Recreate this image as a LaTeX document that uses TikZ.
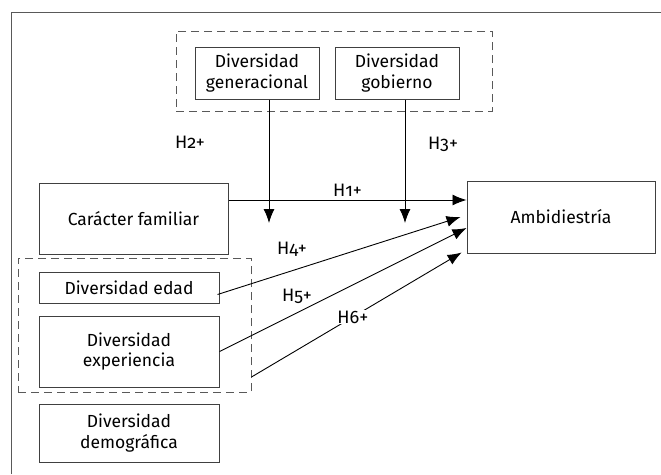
\documentclass[tikz,border=0pt]{standalone}
\usepackage{fontspec}
\setmainfont{Fira Sans}[Numbers=OldStyle]
\usetikzlibrary{arrows.meta}

\begin{document}
\begin{tikzpicture}[
  x=1pt, y=-1pt,
  %% Plain variable boxes
  varbox/.style={draw=black!75, line width=1pt, align=center,
                 inner sep=0pt, font=\fontsize{17.5}{20.5}\selectfont},
  %% Dashed group frames
  grpbox/.style={draw=black!65, line width=1pt, dash pattern=on 8pt off 5pt,
                 inner sep=0pt},
  %% Hypothesis labels
  hyp/.style={font=\fontsize{18}{20}\selectfont, inner sep=1pt},
  %% Arrows
  arr/.style={-{Latex[length=14pt,width=11pt]}, line width=0.9pt},
  marr/.style={-{Latex[length=14pt,width=11pt]}, line width=0.9pt, shorten >=1pt}
]
\useasboundingbox (0,0) rectangle (661,474);

%% -- Open frame: left and top only --------------------------------------
\draw[black!65, line width=1pt] (11,474) -- (11,12) -- (661,12);

%% -- Top group: moderators ---------------------------------------------
\node[grpbox, minimum width=316pt, minimum height=80pt] (topgrp) at (334,71) {};
\node[varbox, minimum width=124pt, minimum height=52pt] (gen) at (257,73)
  {Diversidad\\generacional};
\node[varbox, minimum width=124pt, minimum height=52pt] (gob) at (397,73)
  {Diversidad\\gobierno};

%% -- Main boxes -------------------------------------------------------
\node[varbox, minimum width=189pt, minimum height=71pt] (car) at (133.5,218.5)
  {Carácter familiar};
\node[varbox, minimum width=188pt, minimum height=72pt] (amb) at (561,217)
  {Ambidiestría};

%% -- Left group: diversity dimensions -------------------------------------
\node[grpbox, minimum width=233pt, minimum height=134pt] (leftgrp) at (134.5,325) {};
\node[varbox, minimum width=180pt, minimum height=31pt] (edad) at (129,287.5)
  {Diversidad edad};
\node[varbox, minimum width=180pt, minimum height=71pt] (exp) at (129,351.5)
  {Diversidad\\experiencia};
\node[varbox, minimum width=180pt, minimum height=58pt] (demo) at (129,433)
  {Diversidad\\demográfica};

%% -- Arrow ends -------------------------------------------------------------
\coordinate (genend) at (269,223);
\coordinate (gobend) at (405,223);

%% -- Arrows -----------------------------------------------------------------
\draw[arr] (car.east |- 0,200) -- node[hyp, above=2pt] {H1+} (amb.west |- 0,200);
\draw[arr] (gen.south -| genend) -- (genend);
\draw[arr] (gob.south -| gobend) -- (gobend);
\node[hyp] (h2) at (190,142) {H2+};
\node[hyp] (h3) at (443,144) {H3+};

\draw[arr] ([xshift=-2pt,yshift=-7pt]edad.east) -- ([xshift=-6pt,yshift=0pt]amb.west);
\node[hyp] (h4) at (292,249) {H4+};
\draw[arr] (exp.east) -- ([yshift=-11pt]amb.west);
\node[hyp] (h5) at (297,296) {H5+};
\draw[marr] ([yshift=-52pt]leftgrp.east) -- node[hyp, pos=0.48, fill=white] (h6) {H6+}
  ([xshift=-4pt,yshift=-35pt]amb.west);

\end{tikzpicture}
\end{document}
